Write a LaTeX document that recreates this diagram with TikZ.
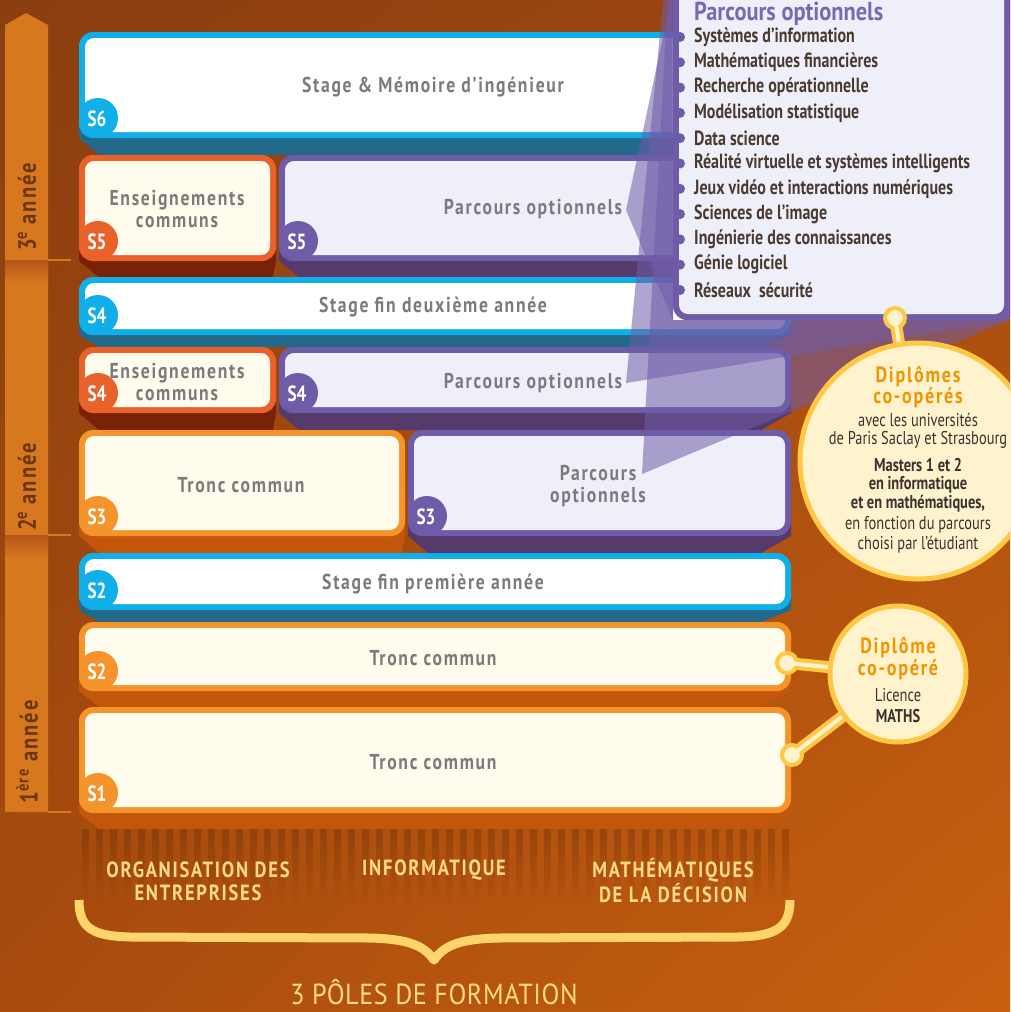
\documentclass[tikz,border=0pt]{standalone}
\usepackage{fontspec}
\setmainfont{PT Sans}
\newfontfamily\nar[FakeStretch=0.78]{PT Sans}
\newfontfamily\titf[FakeStretch=0.86]{PT Sans}
\newfontfamily\polf[FakeStretch=0.9,LetterSpace=2]{PT Sans}
\newfontfamily\lab[FakeStretch=0.82,LetterSpace=8]{PT Sans}
\newfontfamily\botf[FakeStretch=0.84,LetterSpace=8]{PT Sans}
\usetikzlibrary{fadings,shadings}
\definecolor{bgTL}{HTML}{8A3E10}
\definecolor{bgTR}{HTML}{A2480E}
\definecolor{bgBL}{HTML}{A84C0E}
\definecolor{bgBR}{HTML}{C8600F}
\definecolor{blueB}{HTML}{10AFE9}
\definecolor{blueSh}{HTML}{23698A}
\definecolor{redB}{HTML}{E8622A}
\definecolor{redSh}{HTML}{7A2207}
\definecolor{oraB}{HTML}{F4942A}
\definecolor{oraSh}{HTML}{C3560A}
\definecolor{purB}{HTML}{6F5CA8}
\definecolor{purSh}{HTML}{563A6C}
\definecolor{cream}{HTML}{FFFCEE}
\definecolor{lav}{HTML}{EFEFF9}
\definecolor{labgrey}{HTML}{7B7B7B}
\definecolor{yearOr}{HTML}{D8781E}
\definecolor{yearBand}{HTML}{B2561A}
\definecolor{yearTxt}{HTML}{6D3612}
\definecolor{circB}{HTML}{FFC844}
\definecolor{circF}{HTML}{FFF3CE}
\definecolor{titleOr}{HTML}{F29400}
\definecolor{listTxt}{HTML}{4B3A30}
\definecolor{purTitle}{HTML}{7A68B2}
\definecolor{braceY}{HTML}{FFD46A}
\definecolor{botTxt}{HTML}{FFDA8A}
\definecolor{stripeC}{HTML}{6E2E06}
\definecolor{circTxt}{HTML}{3C3230}
\newcommand\sembox[8]{%
  \fill[#5, rounded corners=14] (#1,#2) rectangle (#3,#4);
  \fill[#6, rounded corners=9] (#1+6,#2+6) rectangle (#3-6,#4-6);
  \begin{scope}
    \clip[rounded corners=14] (#1,#2) rectangle (#3,#4);
    \fill[#5] (#1+19,#4-20) circle (20);
  \end{scope}
  \node[badge] (#8) at (#1+18,#4-19) {#7};
}
\newcommand\shad[6]{%
  \fill[#6] (#1,#3-12) -- (#1,#3) -- (#1+20,#4) -- (#2-#5,#4) -- (#2,#3) -- (#2,#3-12) -- cycle;
}
\begin{document}
\begin{tikzpicture}[x=1pt,y=-1pt,
  boxlab/.style={font=\lab\bfseries\fontsize{21.5}{22}\selectfont, text=labgrey, align=center, inner sep=0},
  badge/.style={font=\nar\bfseries\fontsize{22}{22}\selectfont, text=white, inner sep=0},
  listitem/.style={font=\nar\bfseries\fontsize{20.5}{20.5}\selectfont, text=listTxt, anchor=west, inner sep=0},
  yeartxt/.style={font=\lab\bfseries\fontsize{25}{25}\selectfont, text=yearTxt, inner sep=0, rotate=90},
  bottxt/.style={font=\botf\bfseries\fontsize{22}{23}\selectfont, text=botTxt, align=center, inner sep=0},
  dtitle/.style={font=\lab\bfseries\fontsize{22}{22}\selectfont, text=titleOr, inner sep=0},
  dreg/.style={font=\nar\fontsize{18.5}{18.5}\selectfont, text=circTxt, inner sep=0},
  dbold/.style={font=\nar\bfseries\fontsize{18.5}{18.5}\selectfont, text=circTxt, inner sep=0},
  pyr/.style={fill=purB, fill opacity=0.55},
  stemout/.style={draw=circB, line width=12, line cap=round},
  stemin/.style={draw=circF, line width=4, line cap=round},
  knob/.style={circle, fill=circF, draw=circB, line width=4, minimum size=20, inner sep=0}
]
\useasboundingbox (0,0) rectangle (1010,1012);
\clip (0,0) rectangle (1010,1012);
% background
\shade[upper left=bgTL, upper right=bgTR, lower left=bgBL, lower right=bgBR] (0,0) rectangle (1010,1012);

% year bar
\fill[yearOr] (5,25) -- (26,13) -- (48,25) -- (48,812) -- (5,812) -- cycle;
\shade[top color=yearBand, bottom color=yearOr] (5,260) rectangle (48,283);
\shade[top color=yearBand, bottom color=yearOr] (5,535) rectangle (48,559);
\draw[yearOr, line width=2] (48,260) -- (71,260);
\draw[yearOr, line width=2] (48,535) -- (71,535);
\draw[yearOr, line width=2] (48,812) -- (71,812);
\node[yeartxt] (y3) at (27,207) {3\textsuperscript{e} année};
\node[yeartxt] (y2) at (27,487) {2\textsuperscript{e} année};
\node[yeartxt] (y1) at (27,752) {1\textsuperscript{ère} année};

% stripes below S1
\foreach \i in {0,...,50} {
  \fill[stripeC, opacity=0.4, path fading=south] (82+\i*14,829) rectangle ++(7,75);
}
% brace
\draw[braceY, line width=9, line join=round]
  (79,900) .. controls (79,928) and (92,936) .. (130,937)
  -- (370,938) .. controls (410,939) and (424,946) .. (434,960)
  .. controls (444,946) and (458,939) .. (498,938)
  -- (738,937) .. controls (776,936) and (790,928) .. (790,900);

% shadows
\shad{79}{791}{138}{155}{30}{blueSh}
\shad{79}{276}{261}{277}{3}{redSh}
\shad{279}{791}{261}{277}{30}{purSh}
\shad{79}{791}{335}{347}{30}{blueSh}
\shad{79}{276}{413}{430}{3}{redSh}
\shad{279}{791}{413}{430}{30}{purSh}
\shad{79}{405}{536}{553}{3}{oraSh}
\shad{408}{791}{536}{553}{30}{purSh}
\shad{79}{791}{610}{622}{30}{blueSh}
\shad{79}{791}{691}{707}{30}{oraSh}
\shad{79}{791}{813}{829}{30}{oraSh}

% boxes
\sembox{79}{32}{791}{138}{blueB}{white}{S6}{b6}
\sembox{79}{155}{276}{261}{redB}{cream}{S5}{b5l}
\sembox{279}{155}{791}{261}{purB}{lav}{S5}{b5r}
\sembox{79}{277}{791}{335}{blueB}{white}{S4}{b4s}
\sembox{79}{347}{276}{413}{redB}{cream}{S4}{b4l}
\sembox{279}{347}{791}{413}{purB}{lav}{S4}{b4r}
\sembox{79}{430}{405}{536}{oraB}{cream}{S3}{b3l}
\sembox{408}{430}{791}{536}{purB}{lav}{S3}{b3r}
\sembox{79}{553}{791}{610}{blueB}{white}{S2}{b2s}
\sembox{79}{622}{791}{691}{oraB}{cream}{S2}{b2t}
\sembox{79}{707}{791}{813}{oraB}{cream}{S1}{b1}

% box labels
\node[boxlab] (l6) at (433,87) {Stage \& Mémoire d’ingénieur};
\node[boxlab] (l5l) at (177,209) {Enseignements\\communs};
\node[boxlab] (l5r) at (533,209) {Parcours optionnels};
\node[boxlab] (l4s) at (433,307) {Stage fin deuxième année};
\node[boxlab] (l4l) at (177,382) {Enseignements\\communs};
\node[boxlab] (l4r) at (533,383) {Parcours optionnels};
\node[boxlab] (l3l) at (241,485) {Tronc commun};
\node[boxlab] (l3r) at (598,486) {Parcours\\optionnels};
\node[boxlab] (l2s) at (433,584) {Stage fin première année};
\node[boxlab] (l2t) at (433,658) {Tronc commun};
\node[boxlab] (l1) at (433,762) {Tronc commun};

% bottom texts
\node[bottxt] (p1) at (198,881) {ORGANISATION DES\\ENTREPRISES};
\node[bottxt] (p2) at (434,870) {INFORMATIQUE};
\node[bottxt] (p3) at (673,881) {MATHÉMATIQUES\\DE LA DÉCISION};
\node[font=\polf\fontsize{29}{29}\selectfont, text=botTxt, inner sep=0, anchor=base] (poles) at (434,1004) {3 PÔLES DE FORMATION};

% translucent pyramids
\fill[pyr] (626,210) -- (672,-5) -- (673,320) -- cycle;
\fill[pyr] (626,383) -- (673,-100) -- (673,320) -- cycle;
\fill[pyr] (626,383) -- (673,320) -- (1010,320) -- cycle;
\fill[pyr] (642,474) -- (673,-100) -- (673,320) -- cycle;
\fill[pyr] (642,474) -- (673,320) -- (1010,320) -- cycle;

% panel
\fill[purB, rounded corners=14] (673,-30) rectangle (1016,320);
\fill[lav, rounded corners=9] (679,-30) rectangle (1004,314);
\node[font=\titf\bfseries\fontsize{26}{26}\selectfont, text=purTitle, anchor=base west, inner sep=0] (ptitle) at (694,20) {Parcours optionnels};
\foreach \t [count=\k from 0] in {Systèmes d’information, Mathématiques financières, Recherche opérationnelle, Modélisation statistique, Data science, Réalité virtuelle et systèmes intelligents, Jeux vidéo et interactions numériques, Sciences de l’image, Ingénierie des connaissances, Génie logiciel, Réseaux\ \ sécurité} {
  \fill[purB] (680,37+\k*25.3) circle (5);
  \node[listitem] (it\k) at (694,37+\k*25.3) {\t};
}

% circle 1
\coordinate (c1) at (918,461);
\coordinate (k1) at (895,318);
\draw[stemout] (k1) -- (c1);
\node[knob] (kn1) at (k1) {};
\draw[stemin] (kn1.center) -- (c1);
\node[circle, inner sep=0, fill=circF, draw=circB, line width=5, minimum size=236] (d1) at (c1) {};
\node[dtitle] (d1a) at (918,377) {Diplômes};
\node[dtitle] (d1b) at (918,398) {co-opérés};
\node[dreg] (d1c) at (918,420) {avec les universités};
\node[dreg] (d1d) at (918,440) {de Paris Saclay et Strasbourg};
\node[dbold] (d1e) at (918,465) {Masters 1 et 2};
\node[dbold] (d1f) at (918,485) {en informatique};
\node[dbold] (d1g) at (918,504) {et en mathématiques,};
\node[dreg] (d1h) at (918,525) {en fonction du parcours};
\node[dreg] (d1i) at (918,545) {choisi par l’étudiant};

% circle 2
\coordinate (c2) at (898,674);
\coordinate (k2) at (787,663);
\coordinate (k3) at (792,755);
\draw[stemout] (k2) -- (c2);
\draw[stemout] (k3) -- (c2);
\node[knob] (kn2) at (k2) {};
\node[knob] (kn3) at (k3) {};
\draw[stemin] (kn2.center) -- (c2);
\draw[stemin] (kn3.center) -- (c2);
\node[circle, inner sep=0, fill=circF, draw=circB, line width=5, minimum size=136] (d2) at (c2) {};
\node[dtitle] (d2a) at (898,648) {Diplôme};
\node[dtitle] (d2b) at (898,670) {co-opéré};
\node[dreg] (d2c) at (898,695) {Licence};
\node[dbold] (d2d) at (898,716) {MATHS};
\end{tikzpicture}
\end{document}
